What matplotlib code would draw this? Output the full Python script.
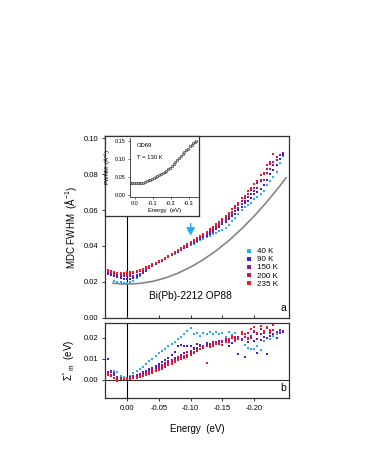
import numpy as np
import matplotlib
matplotlib.use("Agg")
from matplotlib import pyplot as plt
from matplotlib.ticker import FuncFormatter

plt.rcParams["font.family"] = ["Liberation Sans", "DejaVu Sans"]
plt.rcParams["mathtext.fontset"] = "custom"
plt.rcParams["mathtext.rm"] = "Liberation Sans"
plt.rcParams["mathtext.it"] = "Liberation Sans"

# ---------------- data ----------------
temps = ["40 K", "90 K", "150 K", "200 K", "235 K"]
colors = ["#22b0f4", "#4a1ec8", "#8a1aa0", "#c4145a", "#f41820"]

energy = [0.030, 0.025, 0.020, 0.015, 0.010, 0.005, 0.000, -0.005, -0.010, -0.015,
          -0.020, -0.025, -0.030, -0.035, -0.040, -0.045, -0.050, -0.055, -0.060, -0.065,
          -0.070, -0.075, -0.080, -0.085, -0.090, -0.095, -0.100, -0.105, -0.110, -0.115,
          -0.120, -0.125, -0.130, -0.135, -0.140, -0.145, -0.150, -0.155, -0.160, -0.165,
          -0.170, -0.175, -0.180, -0.185, -0.190, -0.195, -0.200, -0.205, -0.210, -0.215,
          -0.220, -0.225, -0.230, -0.235, -0.240, -0.245]

nan = np.nan
fwhm_40 = [nan, nan, 0.0207, 0.0200, 0.0196, 0.0193, 0.0192, 0.0198, 0.0207, 0.0220,
           0.0233, 0.0252, 0.0265, 0.0276, 0.0290, 0.0300, 0.0310, 0.0318, 0.0330, 0.0338,
           0.0347, 0.0356, 0.0368, 0.0377, 0.0386, 0.0396, 0.0405, 0.0413, 0.0422, 0.0432,
           0.0440, 0.0450, 0.0458, 0.0466, 0.0474, 0.0482, 0.0490, 0.0502, 0.0515, 0.0540,
           0.0555, 0.0580, 0.0598, 0.0615, 0.0628, 0.0640, 0.0660, 0.0672, 0.0690, 0.0708,
           0.0738, 0.0760, 0.0785, 0.0815, 0.0860, 0.0900]
fwhm_90 = [0.0245, 0.0238, 0.0230, 0.0224, 0.0220, 0.0217, 0.0216, 0.0218, 0.0222, 0.0228,
           0.0236, 0.0250, 0.0262, 0.0275, 0.0286, 0.0297, 0.0308, 0.0317, 0.0328, 0.0338,
           0.0348, 0.0358, 0.0368, 0.0378, 0.0388, 0.0396, 0.0408, 0.0415, 0.0426, 0.0436,
           0.0447, 0.0458, 0.0468, 0.0480, 0.0492, 0.0505, 0.0520, 0.0535, 0.0548, 0.0565,
           0.0580, 0.0598, 0.0618, 0.0640, 0.0652, 0.0668, 0.0688, 0.0700, 0.0715, 0.0740,
           0.0768, 0.0800, 0.0825, 0.0850, 0.0885, 0.0905]
fwhm_150 = [0.0255, 0.0248, 0.0240, 0.0236, 0.0232, 0.0230, 0.0230, 0.0232, 0.0235, 0.0240,
            0.0246, 0.0255, 0.0266, 0.0276, 0.0287, 0.0298, 0.0308, 0.0318, 0.0330, 0.0340,
            0.0350, 0.0360, 0.0372, 0.0380, 0.0392, 0.0400, 0.0412, 0.0420, 0.0432, 0.0442,
            0.0455, 0.0465, 0.0478, 0.0490, 0.0502, 0.0515, 0.0530, 0.0545, 0.0560, 0.0578,
            0.0595, 0.0612, 0.0635, 0.0650, 0.0672, 0.0690, 0.0705, 0.0725, 0.0760, 0.0770,
            0.0805, 0.0830, 0.0850, 0.0880, 0.0905, 0.0920]
fwhm_200 = [0.0268, 0.0258, 0.0250, 0.0246, 0.0244, 0.0243, 0.0244, 0.0246, 0.0250, 0.0254,
            0.0260, 0.0268, 0.0276, 0.0285, 0.0294, 0.0303, 0.0312, 0.0322, 0.0333, 0.0343,
            0.0354, 0.0364, 0.0376, 0.0387, 0.0396, 0.0406, 0.0415, 0.0426, 0.0436, 0.0448,
            0.0460, 0.0472, 0.0484, 0.0498, 0.0510, 0.0525, 0.0540, 0.0556, 0.0572, 0.0590,
            0.0610, 0.0628, 0.0650, 0.0668, 0.0690, 0.0712, 0.0725, 0.0752, 0.0770, 0.0800,
            0.0830, 0.0855, 0.0870, 0.0895, nan, nan]
fwhm_235 = [0.0262, 0.0256, 0.0252, 0.0250, 0.0250, 0.0251, 0.0252, 0.0254, 0.0257, 0.0262,
            0.0268, 0.0274, 0.0282, 0.0290, 0.0298, 0.0306, 0.0315, 0.0324, 0.0335, 0.0345,
            0.0356, 0.0366, 0.0378, 0.0390, 0.0400, 0.0410, 0.0420, 0.0432, 0.0444, 0.0455,
            0.0468, 0.0480, 0.0494, 0.0506, 0.0520, 0.0535, 0.0550, 0.0568, 0.0585, 0.0605,
            0.0622, 0.0640, 0.0665, 0.0680, 0.0705, 0.0722, 0.0748, 0.0762, 0.0795, 0.0808,
            0.0850, 0.0870, 0.0915, nan, nan, nan]

sig_40 = [nan, nan, 0.0040, 0.0038, 0.0020, 0.0012, 0.0010, 0.0018, 0.0030, 0.0040,
          0.0052, 0.0063, 0.0075, 0.0088, 0.0100, 0.0112, 0.0125, 0.0135, 0.0148, 0.0160,
          0.0170, 0.0180, 0.0192, 0.0205, 0.0218, 0.0232, 0.0245, 0.0215, 0.0220, 0.0210,
          0.0222, 0.0215, 0.0225, 0.0218, 0.0228, 0.0215, 0.0220, 0.0205, 0.0225, 0.0212,
          0.0220, 0.0205, 0.0190, 0.0165, 0.0150, 0.0145, 0.0148, 0.0160, 0.0140, 0.0185,
          0.0200, 0.0195, 0.0210, 0.0218, 0.0225, 0.0230]
sig_90 = [0.0097, 0.0035, 0.0030, 0.0015, 0.0008, 0.0005, 0.0008, 0.0012, 0.0018, 0.0022,
          0.0028, 0.0035, 0.0042, 0.0050, 0.0058, 0.0065, 0.0075, 0.0085, 0.0092, 0.0105,
          0.0118, 0.0132, 0.0160, 0.0165, 0.0162, 0.0158, 0.0160, 0.0150, 0.0170, 0.0165,
          0.0155, 0.0175, 0.0168, 0.0180, 0.0172, 0.0185, 0.0178, 0.0190, 0.0160, 0.0175,
          0.0185, 0.0120, 0.0195, 0.0110, 0.0180, 0.0200, 0.0185, 0.0125, 0.0190, 0.0205,
          0.0120, 0.0210, 0.0215, 0.0200, 0.0220, 0.0225]
sig_150 = [0.0035, 0.0040, 0.0025, 0.0012, 0.0008, 0.0006, 0.0008, 0.0010, 0.0014, 0.0018,
           0.0024, 0.0030, 0.0036, 0.0042, 0.0050, 0.0056, 0.0064, 0.0072, 0.0080, 0.0088,
           0.0096, 0.0102, 0.0110, 0.0118, 0.0125, 0.0132, 0.0138, 0.0145, 0.0150, 0.0162,
           0.0158, 0.0170, 0.0165, 0.0175, 0.0180, 0.0172, 0.0185, 0.0190, 0.0182, 0.0200,
           0.0195, 0.0205, 0.0190, 0.0215, 0.0200, 0.0210, 0.0225, 0.0195, 0.0215, 0.0220,
           0.0200, 0.0230, 0.0215, 0.0225, 0.0238, 0.0232]
sig_200 = [0.0030, 0.0025, 0.0010, 0.0005, 0.0004, 0.0005, 0.0006, 0.0008, 0.0010, 0.0013,
           0.0018, 0.0022, 0.0028, 0.0034, 0.0040, 0.0048, 0.0055, 0.0063, 0.0070, 0.0078,
           0.0085, 0.0092, 0.0100, 0.0106, 0.0112, 0.0118, 0.0125, 0.0132, 0.0140, 0.0145,
           0.0152, 0.0158, 0.0165, 0.0170, 0.0178, 0.0175, 0.0185, 0.0192, 0.0180, 0.0198,
           0.0205, 0.0195, 0.0215, 0.0205, 0.0220, 0.0200, 0.0230, 0.0215, 0.0240, 0.0225,
           0.0245, 0.0220, 0.0235, nan, nan, nan]
sig_235 = [0.0025, 0.0020, 0.0008, -0.0008, 0.0003, 0.0002, 0.0004, 0.0005, 0.0007, 0.0010,
           0.0014, 0.0018, 0.0022, 0.0028, 0.0034, 0.0040, 0.0046, 0.0053, 0.0060, 0.0068,
           0.0076, 0.0084, 0.0092, 0.0098, 0.0104, 0.0110, 0.0116, 0.0125, 0.0135, 0.0145,
           0.0150, 0.0080, 0.0155, 0.0160, 0.0170, 0.0175, 0.0165, 0.0180, 0.0195, 0.0210,
           0.0185, 0.0200, 0.0225, 0.0215, 0.0195, 0.0240, 0.0250, 0.0220, 0.0255, 0.0230,
           0.0250, 0.0235, 0.0260, nan, nan, nan]

fwhm_all = [fwhm_40, fwhm_90, fwhm_150, fwhm_200, fwhm_235]
sig_all = [sig_40, sig_90, sig_150, sig_200, sig_235]

# bare-band reference curve (grey)
ref_energy = [0.022, 0.010, 0.000, -0.020, -0.040, -0.060, -0.080, -0.100, -0.120, -0.140,
              -0.160, -0.180, -0.200, -0.220, -0.240, -0.250]
ref_fwhm = [0.0192, 0.0188, 0.0187, 0.0191, 0.0202, 0.0221, 0.0248, 0.0282, 0.0324, 0.0373,
            0.0430, 0.0495, 0.0567, 0.0647, 0.0734, 0.0781]

# inset: OD69, T = 130 K
inset_energy = [0.025, 0.015, 0.005, -0.005, -0.015, -0.025, -0.035, -0.045, -0.055, -0.065,
                -0.075, -0.085, -0.095, -0.105, -0.115, -0.125, -0.135, -0.145, -0.155, -0.165,
                -0.175, -0.185, -0.195, -0.205, -0.215, -0.225, -0.235, -0.245, -0.255, -0.265,
                -0.275, -0.285, -0.295, -0.305, -0.315, -0.325, -0.335, -0.342]
inset_fwhm = [0.034, 0.033, 0.032, 0.032, 0.032, 0.033, 0.033, 0.034, 0.036, 0.038,
              0.040, 0.042, 0.044, 0.047, 0.049, 0.052, 0.054, 0.057, 0.060, 0.063,
              0.067, 0.071, 0.075, 0.080, 0.086, 0.092, 0.097, 0.103, 0.108, 0.114,
              0.118, 0.124, 0.128, 0.134, 0.138, 0.143, 0.147, 0.150]

x_ticks = [0.00, -0.05, -0.10, -0.15, -0.20]

# ---------------- figure ----------------
W, H = 366, 473
fig = plt.figure(figsize=(W / 100, H / 100), dpi=100)


def frac(x0, y_top, x1, y_bot):
    return [x0 / W, 1 - y_bot / H, (x1 - x0) / W, (y_bot - y_top) / H]


spine_c = "#333333"
ax = fig.add_axes(frac(105, 136, 288.7, 318))
axb = fig.add_axes(frac(105, 322.7, 288.7, 398.3))

hyph = FuncFormatter(lambda v, p: f"{v:.2f}".replace("\u2212", "-"))

for a in (ax, axb):
    a.set_xlim(0.0345, -0.254)
    for s in a.spines.values():
        s.set_color(spine_c)
        s.set_linewidth(0.9)
    a.set_xticks(x_ticks)
    a.tick_params(labelsize=5.5, length=2.5, width=0.7, color=spine_c, pad=2)
    a.yaxis.set_major_formatter(hyph)
    a.xaxis.set_major_formatter(hyph)
    a.axvline(0, color="black", lw=0.8, zorder=1)

ax.set_ylim(-0.0002, 0.1013)
ax.set_yticks([0.00, 0.02, 0.04, 0.06, 0.08, 0.10])
ax.tick_params(axis="x", direction="in", labelbottom=False)
ax.set_ylabel("MDC FWHM  (Å$^{-1}$)", fontsize=7, labelpad=4)

axb.set_ylim(-0.0088, 0.0271)
axb.set_yticks([0.00, 0.01, 0.02])
axb.axhline(0, color=spine_c, lw=0.8, zorder=1)
axb.set_ylabel("$\\Sigma''_{\\,m}$  (eV)", fontsize=7, labelpad=5)
axb.set_xlabel("Energy  (eV)", fontsize=7, labelpad=9)

# grey reference curve
ax.plot(ref_energy, ref_fwhm, color="#858585", lw=1.2, zorder=2)

for vals, sig, c, lab in zip(fwhm_all, sig_all, colors, temps):
    ax.scatter(energy, vals, marker="s", s=3.5, color=c, lw=0, zorder=3, label=lab)
    axb.scatter(energy, sig, marker="s", s=3.5, color=c, lw=0, zorder=3)

ax.annotate("", xy=(-0.10, 0.0442), xytext=(-0.10, 0.0540),
            arrowprops=dict(arrowstyle="-|>,head_width=0.25,head_length=0.45",
                            color=colors[0], lw=1.1), zorder=4)

leg = ax.legend(loc="upper left", bbox_to_anchor=(0.735, 0.417), frameon=False,
                fontsize=5.8, markerscale=1.8, handlelength=0.8, handletextpad=0.6,
                labelspacing=0.05, borderpad=0.2)

ax.text(-0.10, 0.0122, "Bi(Pb)-2212 OP88", fontsize=7.3, ha="center", va="center")
ax.text(0.985, 0.03, "a", transform=ax.transAxes, fontsize=7.5, ha="right", va="bottom")
axb.text(0.985, 0.07, "b", transform=axb.transAxes, fontsize=7.5, ha="right", va="bottom")

# inset with its own white box
box = fig.add_axes(frac(105, 136, 199, 216))
box.set_xticks([])
box.set_yticks([])
box.set_facecolor("white")
for s in box.spines.values():
    s.set_color(spine_c)
    s.set_linewidth(0.9)

ins = fig.add_axes(frac(130, 138, 199, 196.7))
ins.set_xlim(0.028, -0.356)
ins.set_ylim(-0.005, 0.157)
ins.set_xticks([0.0, -0.1, -0.2, -0.3])
ins.set_yticks([0.00, 0.05, 0.10, 0.15])
ins.xaxis.set_major_formatter(FuncFormatter(lambda v, p: f"{v:.1f}".replace("\u2212", "-")))
ins.yaxis.set_major_formatter(hyph)
ins.tick_params(labelsize=4, length=1.5, width=0.5, color=spine_c, pad=1.5)
ins.spines["top"].set_visible(False)
ins.spines["right"].set_visible(False)
for s in ("left", "bottom"):
    ins.spines[s].set_linewidth(0.6)
    ins.spines[s].set_color(spine_c)
ins.patch.set_alpha(0)
ins.scatter(inset_energy, inset_fwhm, s=3, facecolor="#bbbbbb", edgecolor="#333333", lw=0.4)
ins.set_xlabel("Energy  (eV)", fontsize=4.2, labelpad=1.5)
ins.set_ylabel("FWHM  (Å$^{-1}$)", fontsize=4.2, labelpad=1.5)
ins.text(0.10, 0.88, "OD69", transform=ins.transAxes, fontsize=4.2, va="center")
ins.text(0.10, 0.66, "T = 130 K", transform=ins.transAxes, fontsize=4.2, va="center")

fig.savefig("out.png", dpi=100, facecolor="white")
